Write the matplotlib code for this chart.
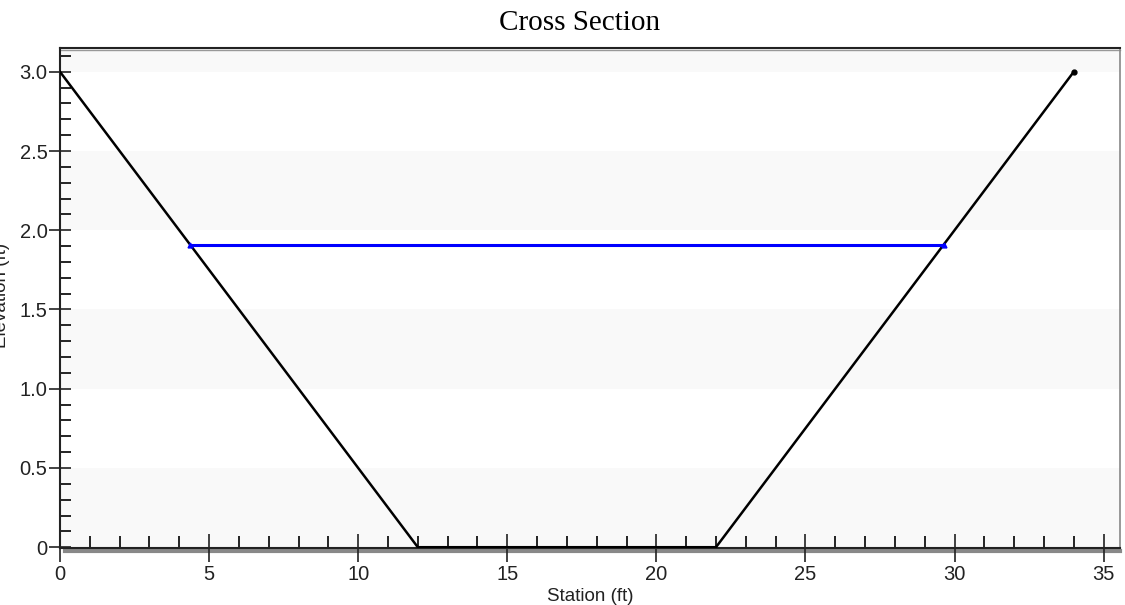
import numpy as np
import matplotlib.pyplot as plt
from matplotlib.ticker import MultipleLocator, FuncFormatter
from matplotlib.lines import Line2D

# cross section geometry
station = [0, 12, 22, 34]
elevation = [3.0, 0.0, 0.0, 3.0]

# water surface
ws_station = [4.36, 29.64]
ws_elev = [1.91, 1.91]

yticks = [0, 0.5, 1.0, 1.5, 2.0, 2.5, 3.0]

fig = plt.figure(figsize=(11.25, 6.05), dpi=100)
ax = fig.add_axes([60/1125, 1 - 548/605, 1060/1125, 500/605])

ax.set_xlim(0, 35.55)
ax.set_ylim(-0.005, 3.15)

# alternating light bands
for k in yticks:
    if (k * 2) % 2 == 0:
        top = k + 0.5 if k < 3.0 else 3.2
        ax.axhspan(k, top, color='#f9f9f9', zorder=0, lw=0)

ax.plot(station, elevation, color='black', lw=1.8, zorder=3)
ax.plot(station[-1], elevation[-1], 'o', color='black', ms=3.5, zorder=4)
ax.plot(ws_station, ws_elev, color='#0000ff', lw=2.2, zorder=3,
        marker='^', ms=3.5)

ax.set_xticks(np.arange(0, 36, 5))
ax.xaxis.set_minor_locator(MultipleLocator(1))
ax.set_yticks(yticks)
ax.yaxis.set_minor_locator(MultipleLocator(0.1))
ax.yaxis.set_major_formatter(FuncFormatter(lambda v, p: '0' if v == 0 else '%.1f' % v))

ax.tick_params(axis='x', which='major', direction='inout', length=20, width=1.2,
               labelsize=14.5, colors='#222222', pad=2)
ax.tick_params(axis='x', which='minor', direction='in', length=9, width=1.2)
ax.tick_params(axis='y', which='major', direction='inout', length=16, width=1.2,
               labelsize=14.5, colors='#222222', pad=1)
ax.tick_params(axis='y', which='minor', direction='in', length=8, width=1.2)

for s in ['left', 'bottom', 'top']:
    ax.spines[s].set_color('#222222')
    ax.spines[s].set_linewidth(1.5)
ax.spines['right'].set_color('#888888')
ax.spines['right'].set_linewidth(1.2)

# grey shadow under the bottom and top spines
ax.add_line(Line2D([0.005, 1], [-0.005, -0.005], transform=ax.transAxes,
                   color='#888888', lw=3, clip_on=False, zorder=1))
ax.add_line(Line2D([0, 1], [0.997, 0.997], transform=ax.transAxes,
                   color='#999999', lw=1, clip_on=False, zorder=1))

for lbl in ax.get_xticklabels() + ax.get_yticklabels():
    lbl.set_family('Liberation Sans')

ax.set_xlabel('Station (ft)', fontsize=13.5, family='Liberation Sans',
              color='#222222', labelpad=3)
fig.text(2/1125, 1 - 295/605, 'Elevation (ft)', rotation=90, ha='center',
         va='center', fontsize=13.5, family='Liberation Sans', color='#222222')
fig.text(580/1125, 1 - 23/605, 'Cross Section', ha='center', va='center',
         fontsize=21, family='Liberation Serif', color='black')

fig.savefig('out.png', dpi=100)
